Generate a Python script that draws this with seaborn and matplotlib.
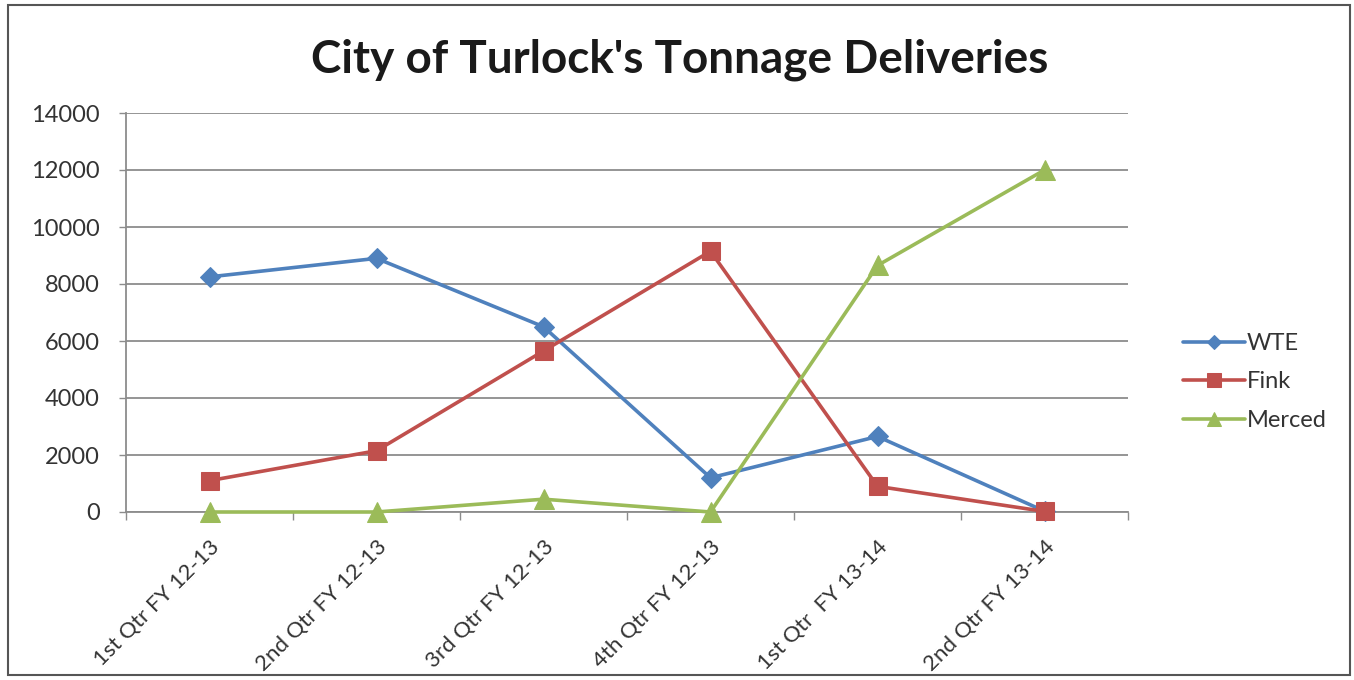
import matplotlib
matplotlib.use("Agg")
import matplotlib.pyplot as plt
import seaborn as sns
import pandas as pd
from matplotlib.patches import Rectangle

# values
quarters = [
    "1st Qtr FY 12-13",
    "2nd Qtr FY 12-13",
    "3rd Qtr FY 12-13",
    "4th Qtr FY 12-13",
    "1st Qtr  FY 13-14",
    "2nd Qtr FY 13-14",
]
wte = [8250, 8900, 6500, 1200, 2650, 30]
fink = [1100, 2150, 5650, 9150, 900, 20]
merced = [0, 0, 450, 0, 8650, 12000]

series = {"WTE": wte, "Fink": fink, "Merced": merced}
colors = {"WTE": "#4F81BD", "Fink": "#C0504D", "Merced": "#9BBB59"}
markers = {"WTE": "D", "Fink": "s", "Merced": "^"}
msizes = {"WTE": 10, "Fink": 13, "Merced": 14}

sns.set_theme(style="white")
plt.rcParams["font.family"] = ["Lato", "DejaVu Sans"]

fig = plt.figure(figsize=(13.54, 6.8), dpi=100)
ax = fig.add_axes([126 / 1354, 1 - 512 / 680, (1128 - 126) / 1354, (512 - 113) / 680])

for name, vals in series.items():
    df = pd.DataFrame({"pos": range(len(quarters)), "tons": vals})
    sns.lineplot(
        data=df, x="pos", y="tons", ax=ax, label=name,
        color=colors[name], linewidth=2.6,
        marker=markers[name], markersize=msizes[name],
        markeredgecolor=colors[name], clip_on=False, zorder=3,
    )

ax.set_xlim(-0.5, len(quarters) - 0.5)
ax.set_ylim(0, 14000)
ax.set_yticks(range(0, 14001, 2000))
ax.yaxis.grid(True, color="#8c8c8c", linewidth=1.3)
ax.set_axisbelow(True)

ax.set_xticks(range(len(quarters)))
ax.set_xticklabels(quarters, rotation=45, ha="right", rotation_mode="anchor",
                   fontsize=16, color="#333333")
ax.set_xticks([i + 0.5 for i in range(-1, len(quarters))], minor=True)
ax.tick_params(axis="x", which="major", length=0, pad=18)
ax.tick_params(axis="x", which="minor", length=6, width=1, color="#8c8c8c", direction="out", bottom=True)
ax.tick_params(axis="y", length=5, width=1, color="#8c8c8c", direction="out", left=True,
               labelsize=17, labelcolor="#333333", pad=14)
ax.set_xlabel("")
ax.set_ylabel("")

for side in ["top", "right"]:
    ax.spines[side].set_visible(False)
for side in ["left", "bottom"]:
    ax.spines[side].set_color("#8c8c8c")
    ax.spines[side].set_linewidth(1.3)

fig.text(0.502, 1 - 60 / 680, "City of Turlock's Tonnage Deliveries",
         ha="center", va="center", fontsize=33, fontweight="bold", color="#1a1a1a")

ax.legend(loc="center left", bbox_to_anchor=(1162 / 1354, 1 - 382 / 680),
          bbox_transform=fig.transFigure, frameon=False, fontsize=17,
          handlelength=2.6, handletextpad=0.1, labelspacing=0.75, markerscale=0.75,
          labelcolor="#333333")

fig.patches.append(Rectangle((8 / 1354, 5 / 680), 1 - 12 / 1354, 1 - 10 / 680,
                             transform=fig.transFigure, fill=False,
                             edgecolor="#555555", linewidth=1.5))

fig.savefig("out.png", dpi=100, facecolor="white")
